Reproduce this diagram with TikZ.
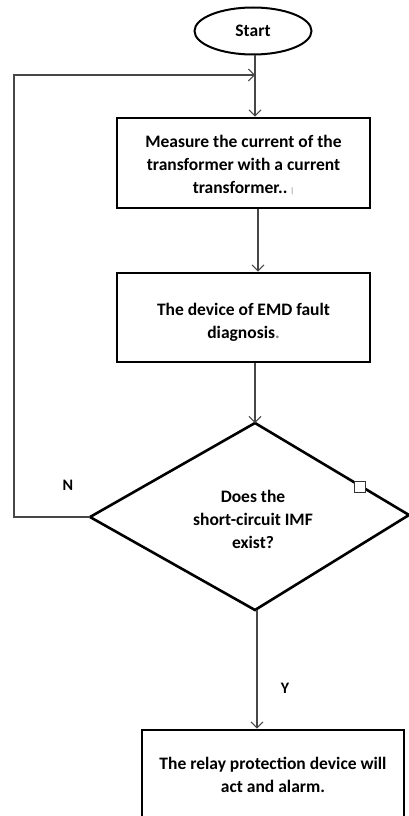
\documentclass[tikz,border=0pt]{standalone}
\usepackage{fontspec}
\setmainfont{Carlito}
\usetikzlibrary{arrows.meta,shapes.geometric}
\newcommand{\lowtext}[2]{\raisebox{-#1}[0pt][0pt]{\begin{tabular}{@{}c@{}}#2\end{tabular}}}
\begin{document}
\begin{tikzpicture}[x=1pt,y=-1pt,
  txtfont/.style={font=\fontsize{17.5}{23}\selectfont\bfseries},
  box/.style={draw=black,line width=2.8pt,rectangle,align=center,inner sep=0pt,txtfont,text=black},
  conn/.style={draw=black!72,line width=1.1pt,-{Straight Barb[length=6pt,width=12pt,line width=1pt]}},
  lbl/.style={font=\fontsize{16}{18}\selectfont\bfseries,text=black}]
\useasboundingbox (0,0) rectangle (409,816);
% nodes
\node[ellipse,draw=black,line width=2pt,minimum width=117,minimum height=47,inner sep=0pt,txtfont] (start) at (253,31) {Start};
\node[box,minimum width=253,minimum height=90] (b1) at (243.5,163) {\lowtext{7pt}{Measure the current of the\\transformer with a current\\transformer..{\color{black!40}\,\fontsize{8}{8}\selectfont|}}};
\node[box,minimum width=253,minimum height=89] (b2) at (243.5,317.5) {\lowtext{9.5pt}{The device of EMD fault\\diagnosis{\color{black!50}.}}};
\node[box,minimum width=262,minimum height=88] (b3) at (273,774) {\lowtext{7pt}{The relay protection device will\\act and alarm.}};
% diamond
\coordinate (dt) at (255,423);
\coordinate (dr) at (409,515);
\coordinate (db) at (255,610);
\coordinate (dl) at (90,517);
\draw[black,line width=2.6pt,line join=miter] (dt) -- (dr) -- (db) -- (dl) -- cycle;
\node[align=center,txtfont,inner sep=0pt] (dtext) at (253,519) {Does the\\short-circuit IMF\\exist?};
\node[draw=black!80,fill=white,line width=1.2pt,minimum size=11pt,inner sep=0pt] (handle) at (360,487) {};
% connectors
\coordinate (x1) at (255,0);
\coordinate (x2) at (258,0);
\coordinate (x3) at (255,0);
\coordinate (x4) at (257,0);
\coordinate (fb) at (255,75);
\coordinate (kl) at (14,75);
\draw[conn] (start.south -| x1) -- (b1.north -| x1);
\draw[conn] (b1.south -| x2) -- (b2.north -| x2);
\draw[conn] (b2.south -| x3) -- (dt);
\draw[conn] (db -| x4) -- (b3.north -| x4);
\draw[conn] (dl) -| (kl) -- (fb);
% labels
\node[lbl] (n) at (68,485) {N};
\node[lbl] (y) at (285,688) {Y};
\end{tikzpicture}
\end{document}
